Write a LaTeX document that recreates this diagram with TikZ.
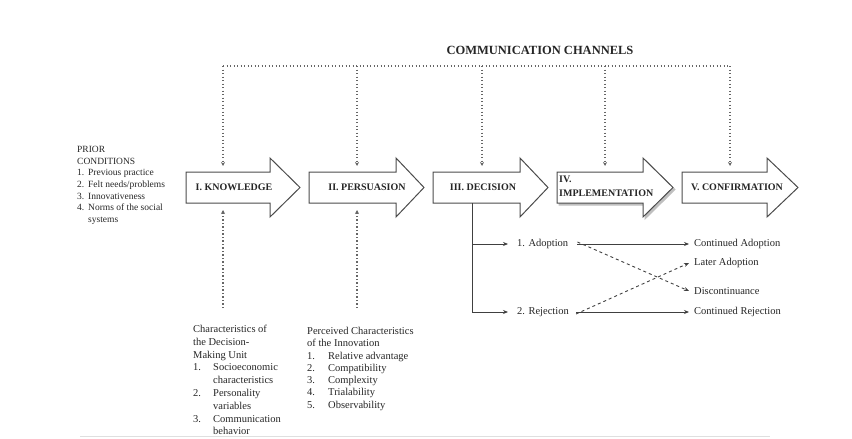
\documentclass[tikz,border=0pt]{standalone}
\usepackage{fontspec}
\setmainfont{Liberation Serif}
\usetikzlibrary{arrows.meta}
\newcommand\bigarrowshape[4][]{%
  \draw[bigarrow,#1] (#2,172) -- (#3,172) -- (#3,158) -- (#4,187.5) -- (#3,217) -- (#3,203) -- (#2,203) -- cycle;}
\begin{document}
\begin{tikzpicture}[x=1pt,y=-1pt,
  ink/.style={draw=black!75,line width=0.9pt},
  bigarrow/.style={draw=black!70,line width=1pt,fill=white,line join=miter},
  dotline/.style={draw=black!60,line width=1.2pt,dash pattern=on 1.2pt off 2.3pt},
  dottip/.style={-{Stealth[length=4pt,width=4pt]}},
  soltip/.style={-{Stealth[length=5pt,width=4pt]}},
  lbl/.style={font=\fontsize{10}{12}\selectfont\bfseries,text=black!85,inner sep=0pt},
  title/.style={font=\fontsize{12.5}{14}\selectfont\bfseries,text=black!85,inner sep=0pt},
  prior/.style={font=\fontsize{9.5}{11.7}\selectfont,text=black!85,inner sep=0pt,align=left,anchor=north west},
  charblock/.style={font=\fontsize{10.5}{12.8}\selectfont,text=black!85,inner sep=0pt,align=left,anchor=north west},
  tree/.style={font=\fontsize{10.5}{12}\selectfont,text=black!85,inner sep=0pt,anchor=west},
]
\useasboundingbox (0,0) rectangle (852,439);

% faint page edge
\draw[gray!25,line width=1pt] (80,436) -- (770,436);

% title
\node[title] (cc) at (540,50) {COMMUNICATION CHANNELS};

% stage arrows
\bigarrowshape{186}{270}{300}
\bigarrowshape{309}{396}{424}
\bigarrowshape{433}{520}{548}
\bigarrowshape[draw=gray!50,fill=gray!50,shift={(2,2)}]{557}{643}{673}
\bigarrowshape{557}{643}{673}
\bigarrowshape{682}{767}{798}

\node[lbl] (kn) at (234,187.5) {I. KNOWLEDGE};
\node[lbl] (pe) at (367,187.5) {II. PERSUASION};
\node[lbl] (de) at (483,187.5) {III. DECISION};
\node[lbl,align=left,anchor=west,font=\fontsize{10}{14}\selectfont\bfseries] (im) at (559,186) {IV.\\IMPLEMENTATION};
\node[lbl] (co) at (737,187.5) {V. CONFIRMATION};

% communication channels dotted lines
\foreach \i/\x in {1/223,2/357,3/482,4/605,5/730}{
  \coordinate (c\i) at (\x,66);
  \coordinate (t\i) at (\x,166);
}
\draw[dotline] (c1) -- (c5);
\foreach \i in {1,...,5}{ \draw[dotline,dottip] (c\i) -- (t\i); }

% bottom dotted arrows
\coordinate (b1) at (223,308); \coordinate (u1) at (223,210);
\coordinate (b2) at (357,308); \coordinate (u2) at (357,210);
\draw[dotline,dottip] (b1) -- (u1);
\draw[dotline,dottip] (b2) -- (u2);

% prior conditions
\node[prior] (pc) at (77,146) {PRIOR\\CONDITIONS\\
\makebox[11pt][l]{1.}Previous practice\\
\makebox[11pt][l]{2.}Felt needs/problems\\
\makebox[11pt][l]{3.}Innovativeness\\
\makebox[11pt][l]{4.}Norms of the social\\
\hspace*{11pt}systems};

% bottom characteristic blocks
\node[charblock] (du) at (193,325) {Characteristics of\\the Decision-\\Making Unit\\
\makebox[20pt][l]{1.}Socioeconomic\\\hspace*{20pt}characteristics\\
\makebox[20pt][l]{2.}Personality\\\hspace*{20pt}variables\\
\makebox[20pt][l]{3.}Communication\\\hspace*{20pt}behavior};
\node[charblock,font=\fontsize{10.5}{12.3}\selectfont] (pi) at (307,327) {Perceived Characteristics\\of the Innovation\\
\makebox[21pt][l]{1.}Relative advantage\\
\makebox[21pt][l]{2.}Compatibility\\
\makebox[21pt][l]{3.}Complexity\\
\makebox[21pt][l]{4.}Trialability\\
\makebox[21pt][l]{5.}Observability};

% decision tree
\coordinate (dv) at (472,203);
\coordinate (dl) at (472,312);
\node[tree] (ad) at (517,244) {1. Adoption};
\node[tree] (rj) at (517,312) {2. Rejection};
\node[tree] (ca) at (694,244) {Continued Adoption};
\node[tree] (la) at (694,263) {Later Adoption};
\node[tree] (dc) at (694,291) {Discontinuance};
\node[tree] (cr) at (694,312) {Continued Rejection};

\draw[ink] (dv) -- (dl);
\draw[ink,soltip] (dv |- ad.west) -- ([xshift=-9pt]ad.west);
\draw[ink,soltip] (dl) -- ([xshift=-9pt]rj.west);
\draw[ink,soltip] ([xshift=9pt]ad.east) -- ([xshift=-5pt]ca.west);
\draw[ink,soltip] ([xshift=7pt]rj.east) -- ([xshift=-5pt]cr.west);
\draw[ink,dashed,soltip] ([xshift=9pt,yshift=2pt]ad.east) -- ([xshift=-5pt]dc.west);
\draw[ink,dashed,soltip] ([xshift=7pt,yshift=-2pt]rj.east) -- ([xshift=-5pt]la.west);
\end{tikzpicture}
\end{document}
